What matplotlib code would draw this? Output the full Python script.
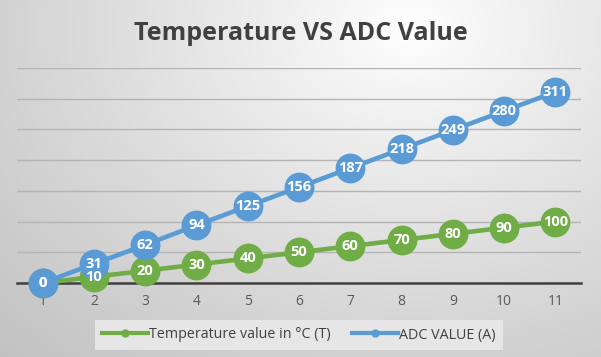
import numpy as np
import matplotlib
matplotlib.use("Agg")
import matplotlib.pyplot as plt
from matplotlib.lines import Line2D

x_labels = [1, 2, 3, 4, 5, 6, 7, 8, 9, 10, 11]
temperature = [0, 10, 20, 30, 40, 50, 60, 70, 80, 90, 100]
adc_value = [0, 31, 62, 94, 125, 156, 187, 218, 249, 280, 311]
title = "Temperature VS ADC Value"
series_names = ["Temperature value in °C (T)", "ADC VALUE (A)"]

plt.rcParams['font.family'] = ['Open Sans', 'DejaVu Sans']

W, H = 601, 357
fig = plt.figure(figsize=(W / 100, H / 100), dpi=100)

# radial gradient background
bg = fig.add_axes([0, 0, 1, 1], zorder=-10)
yy, xx = np.mgrid[0:H, 0:W]
cx, cy = 0.68 * W, 0.08 * H
d = np.sqrt(((xx - cx) / W) ** 2 + ((yy - cy) / H * 0.75) ** 2)
d = d / d.max()
val = 1.0 - 0.24 * np.clip(d, 0, 1) ** 0.9
img = np.dstack([val, val, val])
bg.imshow(img, aspect='auto', extent=[0, 1, 0, 1], origin='upper')
bg.axis('off')

ax = fig.add_axes([17 / W, (H - 283) / H, (581 - 17) / W, (283 - 68) / H])
ax.set_facecolor('none')
xs = np.arange(1, len(x_labels) + 1)

blue = '#5B9BD5'
green = '#70AD47'

ax.plot(xs, temperature, color=green, lw=3.3, marker='o', ms=20.5, zorder=3, clip_on=False)
ax.plot(xs, adc_value, color=blue, lw=3.3, marker='o', ms=20.5, zorder=4, clip_on=False)

for x, v in zip(xs, temperature):
    ax.text(x, v, str(v), ha='center', va='center', color='white',
            fontsize=10.5, fontweight='bold', zorder=5)
for x, v in zip(xs, adc_value):
    ax.text(x, v, str(v), ha='center', va='center', color='white',
            fontsize=10.5, fontweight='bold', zorder=6)

ax.set_xlim(0.5, len(x_labels) + 0.5)
ax.set_ylim(0, 350)
ax.set_yticks(np.arange(0, 351, 50))
ax.yaxis.grid(True, color='#B4B4B4', lw=1)
ax.set_axisbelow(True)
ax.tick_params(axis='y', left=False, labelleft=False)
ax.set_xticks(xs)
ax.set_xticklabels([str(v) for v in x_labels], color='#595959', fontsize=10)
ax.tick_params(axis='x', length=0, pad=8)
for s in ['top', 'right', 'left']:
    ax.spines[s].set_visible(False)
ax.spines['bottom'].set_color('#404040')
ax.spines['bottom'].set_linewidth(1.8)

fig.text(0.5, 1 - 33 / H, title, ha='center', va='center', fontsize=18,
         fontweight='bold', color='#404040')

handles = [Line2D([0], [0], color=green, lw=3, marker='o', ms=5),
           Line2D([0], [0], color=blue, lw=3, marker='o', ms=5)]
leg = fig.legend(handles, series_names, loc='center', bbox_to_anchor=(299 / W, 1 - 335 / H),
                 ncol=2, frameon=True, fontsize=10.3, handlelength=3.2, handletextpad=0.1,
                 columnspacing=1.5, borderpad=0.5)
leg.get_frame().set_facecolor('#E6E6E6')
leg.get_frame().set_edgecolor('none')
leg.get_frame().set_alpha(1)
leg.get_frame().set_boxstyle('square', pad=0)
for t in leg.get_texts():
    t.set_color('#404040')

fig.savefig('out.png', dpi=100)
